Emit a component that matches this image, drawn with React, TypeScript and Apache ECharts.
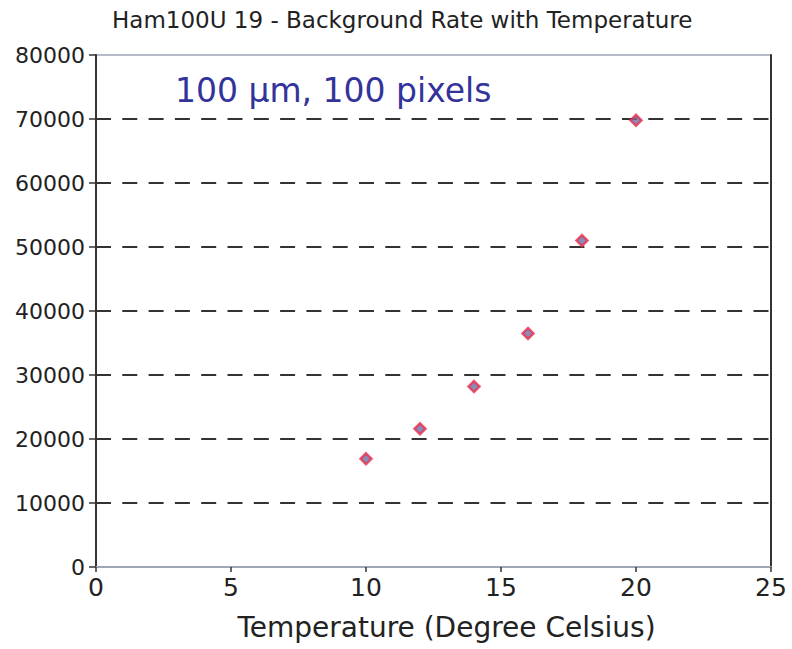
import React, { useEffect, useRef } from "react";
import * as echarts from "echarts";

const temperatures = [10, 12, 14, 16, 18, 20];
const backgroundRates = [16900, 21600, 28200, 36500, 51000, 69800];
const titleText = "Ham100U 19 - Background Rate with Temperature";
const annotationText = "100 \u03bcm, 100 pixels";
const xAxisName = "Temperature (Degree Celsius)";

const FONT = "'DejaVu Sans', 'Liberation Sans', sans-serif";

export default function App() {
  const ref = useRef<HTMLDivElement>(null);
  useEffect(() => {
    if (!ref.current) return;
    const chart = echarts.init(ref.current, undefined, { renderer: "svg" });
    chart.setOption({
      animation: false,
      backgroundColor: "#ffffff",
      title: {
        text: titleText,
        left: 112,
        top: 8,
        padding: 0,
        textStyle: { fontFamily: FONT, fontSize: 23, fontWeight: "normal", color: "#222" },
      },
      graphic: [
        {
          type: "text",
          left: 175,
          top: 74,
          style: { text: annotationText, font: `33px ${FONT}`, fill: "#33339a" },
        },
      ],
      grid: {
        left: 96,
        right: 21,
        top: 55,
        bottom: 82,
        show: true,
        borderColor: "#9ea6b8",
        borderWidth: 1.5,
      },
      xAxis: {
        type: "value",
        min: 0,
        max: 25,
        interval: 5,
        name: xAxisName,
        nameLocation: "middle",
        nameGap: 46,
        nameTextStyle: { fontFamily: FONT, fontSize: 28, color: "#222", padding: [0, 0, 0, 26] },
        axisLine: { show: true, lineStyle: { color: "#9ea6b8", width: 2 } },
        axisTick: { show: true, inside: false, length: 5, lineStyle: { color: "#333", width: 1.5 } },
        axisLabel: { fontFamily: FONT, fontSize: 25, color: "#222", margin: 8 },
        splitLine: { show: false },
      },
      yAxis: [
        {
          type: "value",
          min: 0,
          max: 80000,
          interval: 10000,
          axisLine: { show: true, lineStyle: { color: "#333", width: 2 } },
          axisTick: { show: true, inside: false, length: 7, lineStyle: { color: "#333", width: 1.5 } },
          axisLabel: {
            fontFamily: FONT,
            fontSize: 22,
            color: "#222",
            margin: 11,
            formatter: (v: number) => String(v),
          },
          splitLine: {
            show: true,
            showMinLine: false,
            showMaxLine: false,
            lineStyle: { color: "#333", width: 2, type: [15, 11.3] },
          },
        },
        {
          type: "value",
          min: 0,
          max: 80000,
          interval: 10000,
          position: "right",
          axisLine: { show: true, lineStyle: { color: "#333", width: 2 } },
          axisTick: { show: false },
          axisLabel: { show: false },
          splitLine: { show: false },
        },
      ],
      series: [
        {
          type: "scatter",
          yAxisIndex: 0,
          symbol: "diamond",
          symbolSize: 11,
          itemStyle: { color: "#6e6ea8", borderColor: "#e8304c", borderWidth: 2.5 },
          data: temperatures.map((t, i) => [t, backgroundRates[i]]),
        },
      ],
    });
    return () => chart.dispose();
  }, []);
  return (
    <div
      ref={ref}
      style={{ position: "absolute", left: 0, top: 0, width: 792, height: 649 }}
    />
  );
}
